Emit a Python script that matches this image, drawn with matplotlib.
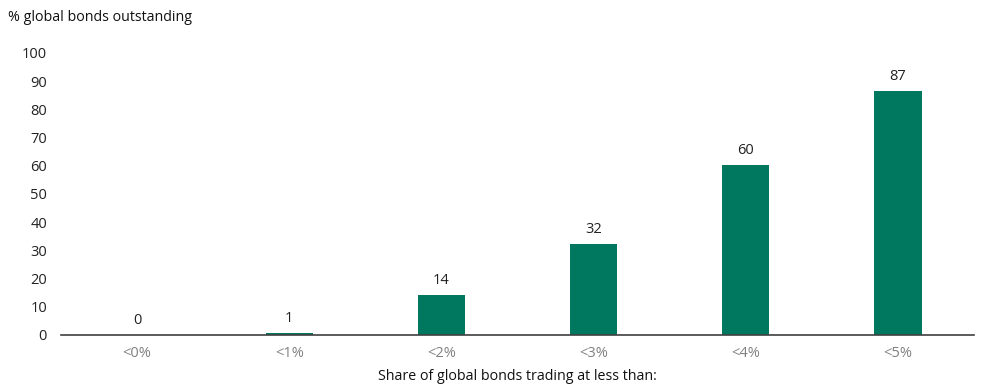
import matplotlib.pyplot as plt

plt.rcParams["font.family"] = ["Open Sans", "DejaVu Sans"]

# data
categories = ["<0%", "<1%", "<2%", "<3%", "<4%", "<5%"]
values = [0.0, 0.6, 14.2, 32.3, 60.3, 86.6]
labels = ["0", "1", "14", "32", "60", "87"]

BAR_COLOR = "#00785f"

fig = plt.figure(figsize=(9.82, 3.89), dpi=100)
ax = fig.add_axes([0.062, 0.139, 0.93, 0.725])

x = range(len(categories))
ax.bar(x, values, width=0.31, color=BAR_COLOR, zorder=2)
for xi, v, lab in zip(x, values, labels):
    ax.text(xi, v + 2.5, lab, ha="center", va="bottom", fontsize=10.5, color="#222222")

ax.set_xlim(-0.5, len(categories) - 0.5)
ax.set_ylim(0, 100)
ax.set_yticks(range(0, 101, 10))
ax.set_xticks(list(x))
ax.set_xticklabels(categories, color="#808080", fontsize=10.5)
ax.tick_params(axis="both", length=0, labelsize=10.5)
ax.tick_params(axis="x", pad=8)
ax.tick_params(axis="y", pad=10, labelcolor="#222222")

for side in ("top", "right", "left"):
    ax.spines[side].set_visible(False)
ax.spines["bottom"].set_color("#404040")
ax.spines["bottom"].set_linewidth(1.2)
ax.spines["bottom"].set_zorder(3)

ax.set_xlabel("Share of global bonds trading at less than:", fontsize=10.3,
              color="#111111", labelpad=6)
fig.text(0.008, 0.955, "% global bonds outstanding", fontsize=10.3,
         color="#111111", ha="left", va="center")

fig.savefig("out.png", dpi=100)
